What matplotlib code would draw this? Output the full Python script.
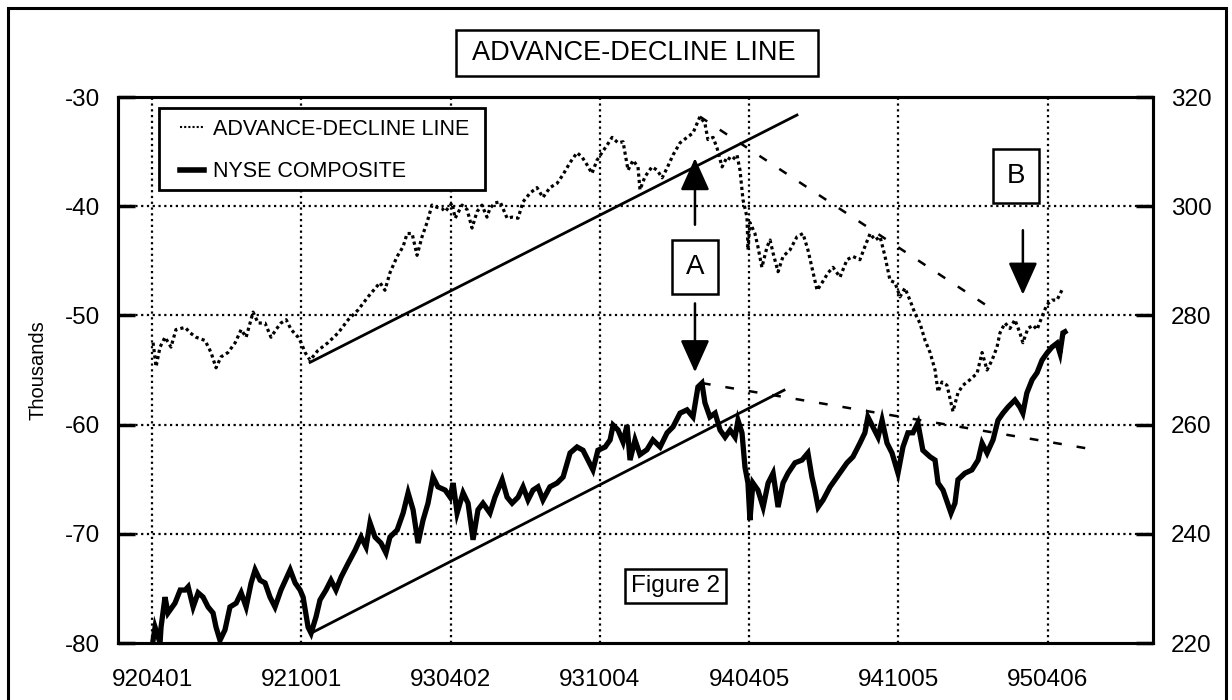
import matplotlib
matplotlib.use("Agg")
import matplotlib.pyplot as plt
from matplotlib.lines import Line2D
from matplotlib.patches import Rectangle

plt.rcParams['font.family'] = ['Liberation Sans', 'DejaVu Sans']

# ---------------- data ----------------
# x: months since 920401 (gridlines every 6 months)
x_ticks = [0, 6, 12, 18, 24, 30, 36]
x_labels = ['920401', '921001', '930402', '931004', '940405', '941005', '950406']
left_ticks = [-80, -70, -60, -50, -40, -30]
right_ticks = [220, 240, 260, 280, 300, 320]

# Advance-decline line (thousands, left axis)
ad_x = [0.04, 0.16, 0.32, 0.52, 0.76, 0.96, 1.33, 1.53, 1.77, 2.13, 2.37, 2.57, 2.77, 3.05,
        3.34, 3.58, 3.78, 4.06, 4.26, 4.54, 4.78, 4.98, 5.18, 5.39, 5.59, 5.87, 5.99, 6.15,
        6.35, 6.67, 7.07, 7.48, 7.88, 8.28, 8.68, 9.16, 9.36, 9.56, 9.85, 10.09, 10.25,
        10.45, 10.65, 10.85, 11.05, 11.25, 11.45, 11.65, 11.78, 12.06, 12.18, 12.46, 12.66,
        12.86, 13.06, 13.26, 13.46, 13.58, 13.78, 13.99, 14.27, 14.47, 14.71, 14.91, 15.19,
        15.47, 15.71, 15.99, 16.28, 16.52, 16.80, 17.08, 17.28, 17.48, 17.68, 17.88, 18.08,
        18.29, 18.49, 18.73, 18.93, 19.13, 19.33, 19.53, 19.61, 19.81, 20.09, 20.30, 20.50,
        20.70, 20.94, 21.22, 21.50, 21.74, 22.02, 22.22, 22.34, 22.55, 22.71, 22.91, 23.11,
        23.31, 23.51, 23.63, 23.75, 23.91, 23.95, 24.03, 24.23, 24.35, 24.51, 24.72, 24.84,
        24.96, 25.16, 25.36, 25.64, 25.92, 26.16, 26.36, 26.52, 26.73, 26.93, 27.17, 27.37,
        27.65, 27.93, 28.17, 28.45, 28.65, 28.86, 29.06, 29.26, 29.46, 29.66, 29.86, 30.06,
        30.26, 30.46, 30.66, 30.86, 31.07, 31.27, 31.47, 31.59, 31.75, 31.95, 32.19, 32.39,
        32.59, 32.87, 33.16, 33.36, 33.56, 33.76, 33.96, 34.08, 34.28, 34.48, 34.68, 34.88,
        35.00, 35.20, 35.41, 35.57, 35.77, 35.97, 36.17, 36.37, 36.61]
ad_y = [-52.5, -54.7, -52.9, -52.0, -52.9, -51.3, -51.1, -51.6, -52.0, -52.3, -53.4, -54.8,
        -53.8, -53.4, -52.5, -51.3, -52.0, -49.7, -50.7, -50.7, -52.0, -51.3, -50.7, -50.4,
        -51.3, -52.0, -52.5, -53.4, -54.1, -53.2, -52.5, -51.6, -50.4, -49.5, -48.3, -47.0,
        -47.7, -46.1, -44.6, -43.7, -42.5, -42.5, -44.5, -42.8, -41.5, -39.9, -40.1, -40.2,
        -40.5, -39.7, -41.1, -39.9, -40.3, -42.0, -40.5, -39.9, -41.0, -40.2, -39.7, -39.6,
        -41.1, -41.0, -41.1, -39.6, -38.8, -38.3, -39.2, -38.3, -37.9, -37.1, -36.0, -35.1,
        -35.5, -36.2, -37.0, -35.8, -35.1, -34.4, -33.7, -34.2, -34.1, -36.7, -35.8, -36.4,
        -38.5, -37.3, -36.4, -36.7, -37.4, -36.5, -35.3, -34.2, -33.7, -33.3, -31.8, -32.4,
        -33.9, -33.7, -34.7, -36.4, -35.5, -35.8, -35.3, -36.7, -39.4, -41.0, -44.0, -41.5,
        -42.5, -43.7, -45.6, -43.7, -43.1, -44.3, -46.0, -44.6, -44.0, -42.8, -42.5, -44.0,
        -45.6, -47.7, -47.0, -46.1, -45.6, -46.5, -44.9, -44.6, -44.9, -43.7, -42.5, -43.1,
        -42.8, -44.6, -46.8, -47.0, -48.3, -47.5, -48.6, -49.8, -50.7, -52.3, -53.4, -55.0,
        -57.0, -56.1, -56.4, -58.8, -57.1, -56.4, -55.9, -55.3, -53.4, -55.0, -54.1, -52.9,
        -51.6, -50.7, -51.2, -50.4, -51.6, -52.5, -51.2, -50.9, -51.3, -50.1, -49.0, -48.6,
        -48.6, -47.5]

# NYSE composite (right axis)
nyse_x = [0.04, 0.12, 0.32, 0.36, 0.52, 0.64, 0.92, 1.13, 1.33, 1.45, 1.65, 1.85, 2.05, 2.25,
          2.45, 2.57, 2.73, 2.93, 3.13, 3.38, 3.58, 3.78, 3.98, 4.14, 4.34, 4.54, 4.74, 4.94,
          5.18, 5.55, 5.75, 5.95, 6.07, 6.27, 6.39, 6.59, 6.75, 6.99, 7.19, 7.39, 7.60, 7.88,
          8.16, 8.40, 8.60, 8.76, 8.96, 9.20, 9.40, 9.56, 9.85, 10.09, 10.29, 10.49, 10.69,
          10.89, 11.09, 11.29, 11.49, 11.78, 11.98, 12.10, 12.26, 12.50, 12.70, 12.90, 13.10,
          13.30, 13.58, 13.78, 14.07, 14.27, 14.47, 14.71, 14.91, 15.11, 15.31, 15.51, 15.71,
          15.99, 16.28, 16.52, 16.80, 17.08, 17.32, 17.52, 17.72, 17.92, 18.21, 18.41, 18.53,
          18.73, 18.93, 19.09, 19.21, 19.41, 19.61, 19.89, 20.13, 20.42, 20.70, 20.94, 21.22,
          21.50, 21.74, 21.94, 22.10, 22.22, 22.42, 22.63, 22.83, 23.03, 23.23, 23.43, 23.55,
          23.71, 23.83, 23.95, 24.03, 24.15, 24.35, 24.56, 24.76, 24.96, 25.16, 25.36, 25.56,
          25.84, 26.12, 26.36, 26.52, 26.64, 26.77, 26.97, 27.25, 27.53, 27.73, 27.93, 28.17,
          28.45, 28.65, 28.77, 28.97, 29.18, 29.34, 29.54, 29.74, 29.98, 30.18, 30.38, 30.58,
          30.78, 30.98, 31.27, 31.47, 31.59, 31.79, 32.11, 32.27, 32.39, 32.67, 32.95, 33.20,
          33.36, 33.56, 33.80, 34.00, 34.20, 34.40, 34.68, 34.88, 35.00, 35.16, 35.37, 35.57,
          35.77, 35.97, 36.17, 36.37, 36.49, 36.61, 36.69]
nyse_y = [220.5, 222.9, 220.0, 222.9, 228.4, 225.5, 227.3, 229.7, 229.7, 230.3, 226.6, 229.2,
          228.4, 226.6, 225.5, 222.9, 220.5, 222.4, 226.6, 227.3, 229.2, 226.6, 231.0, 233.4,
          231.5, 231.0, 228.4, 226.6, 229.7, 233.4, 231.0, 229.7, 228.4, 222.9, 221.8, 224.8,
          227.9, 229.7, 231.5, 229.7, 232.1, 234.6, 237.0, 239.4, 237.6, 242.0, 239.4, 238.3,
          236.5, 239.4, 240.7, 243.8, 247.5, 244.4, 238.3, 242.5, 245.6, 250.4, 248.6, 248.0,
          246.7, 249.3, 243.8, 247.5, 245.6, 238.9, 244.4, 245.6, 243.8, 246.7, 249.9, 246.7,
          245.6, 246.7, 248.6, 246.2, 248.0, 248.6, 246.2, 248.6, 249.3, 250.4, 254.8, 255.9,
          255.3, 253.5, 251.7, 255.3, 255.9, 257.2, 259.9, 259.0, 256.8, 259.9, 253.5, 257.2,
          254.5, 255.4, 257.2, 255.9, 258.5, 259.6, 262.1, 262.7, 261.4, 266.9, 267.6, 264.0,
          261.4, 262.1, 259.0, 257.7, 259.0, 257.7, 260.8, 258.5, 252.2, 249.3, 242.5, 249.3,
          248.0, 244.9, 249.3, 251.1, 244.9, 249.3, 251.1, 253.0, 253.5, 254.8, 250.4, 248.0,
          244.9, 246.2, 248.6, 250.4, 251.7, 253.0, 254.1, 256.6, 258.5, 261.4, 259.6, 257.7,
          260.8, 256.6, 254.8, 251.1, 255.9, 258.5, 258.5, 260.3, 255.3, 254.1, 253.5, 249.3,
          248.0, 243.8, 245.6, 249.9, 251.1, 251.7, 253.5, 256.6, 254.8, 257.2, 260.8, 262.1,
          263.2, 264.5, 263.2, 262.1, 265.8, 268.2, 269.5, 271.8, 273.1, 274.2, 274.9, 273.1,
          276.8, 277.0]

# Trend lines (endpoints in data units)
ad_trend_x = [6.35, 25.92]
ad_trend_y = [-54.3, -31.65]
ad_down_x = [22.02, 33.68]
ad_down_y = [-31.8, -49.3]
nyse_trend_x = [6.39, 25.40]
nyse_trend_y = [221.8, 266.3]
nyse_down_x = [22.10, 38.02]
nyse_down_y = [267.6, 255.3]

# ---------------- figure ----------------
W, H = 1232, 700
fig = plt.figure(figsize=(W / 100, H / 100), dpi=100)
ax = fig.add_axes([118 / W, 1 - 643 / H, 1035 / W, 546 / H])
ax2 = ax.twinx()
ax2.patch.set_visible(False)

ax.set_xlim(-1.37, 40.23)
ax.set_ylim(-80, -30)
ax2.set_ylim(220, 320)

grid_kw = dict(color='black', lw=1.6, ls=(0, (1, 1.6)), zorder=1)
for v in left_ticks[1:-1]:
    ax.axhline(v, **grid_kw)
for t in x_ticks:
    ax.axvline(t, **grid_kw)

ax.set_xticks(x_ticks)
ax.set_xticklabels(x_labels)
ax.set_yticks(left_ticks)
ax.set_yticklabels([str(v) for v in left_ticks])
ax2.set_yticks(right_ticks)
ax2.set_yticklabels([str(v) for v in right_ticks])

ax.tick_params(axis='x', length=0, pad=19, labelsize=17.5)
ax.tick_params(axis='y', direction='in', length=12, width=2.5, pad=13, labelsize=17.5)
ax2.tick_params(axis='y', direction='in', length=12, width=2.5, pad=13, labelsize=17.5)
for a in (ax, ax2):
    for s in a.spines.values():
        s.set_linewidth(2.2)

ax.set_ylabel('Thousands', fontsize=14.5)
ax.yaxis.set_label_coords((47 - 118) / 1035, 0.5)

# series
ax.plot(ad_x, ad_y, color='black', lw=2.3, ls=(0, (1, 1)), zorder=3)
ax.plot(ad_trend_x, ad_trend_y, color='black', lw=2.0, zorder=3)
ax.plot(ad_down_x, ad_down_y, color='black', lw=1.8, ls=(0, (3.5, 6)), zorder=3)
ax2.plot(nyse_x, nyse_y, color='black', lw=3.8, zorder=3, solid_joinstyle='miter')
ax2.plot(nyse_trend_x, nyse_trend_y, color='black', lw=2.0, zorder=3)
ax2.plot(nyse_down_x, nyse_down_y, color='black', lw=1.8, ls=(0, (3.5, 6)), zorder=3)

# legend (frame drawn separately to match the reference box)
ax2.add_patch(Rectangle(((159 - 118) / 1035, (643 - 190) / 546), 326 / 1035, 82 / 546,
                        transform=ax2.transAxes, fc='white', ec='black', lw=2, zorder=9))
handles = [Line2D([], [], color='black', lw=1.5, ls=(0, (1, 1))),
           Line2D([], [], color='black', lw=4)]
leg = ax2.legend(handles, ['ADVANCE-DECLINE LINE', 'NYSE COMPOSITE'],
                 loc='upper left', bbox_to_anchor=((180 - 118) / 1035, (643 - 119) / 546),
                 borderaxespad=0, borderpad=0, fontsize=15.5, frameon=False,
                 handlelength=1.1, handletextpad=0.42, labelspacing=0.98)
leg.set_zorder(10)

# annotations
box_kw = dict(boxstyle='square,pad=0.5', fc='white', ec='black', lw=1.8)
ax.text(21.82, -45.6, 'A', fontsize=20, ha='center', va='center', bbox=box_kw, zorder=6)
ax.text(34.73, -37.2, 'B', fontsize=20, ha='center', va='center', bbox=box_kw, zorder=6)
ax.text(21.03, -74.8, 'Figure 2', fontsize=17.5, ha='center', va='center',
        bbox=dict(boxstyle='square,pad=0.25', fc='white', ec='black', lw=1.8), zorder=6)

arrow_kw = dict(arrowstyle='-|>,head_length=1.0,head_width=0.45', color='black', lw=1.8,
                mutation_scale=20, shrinkA=0, shrinkB=0)
ax.annotate('', xy=(21.82, -35.6), xytext=(21.82, -41.7), arrowprops=arrow_kw, zorder=6)
ax.annotate('', xy=(21.82, -55.2), xytext=(21.82, -48.9), arrowprops=arrow_kw, zorder=6)
ax.annotate('', xy=(35.0, -48.1), xytext=(35.0, -42.2), arrowprops=arrow_kw, zorder=6)

# title
fig.add_artist(Rectangle((456 / W, 1 - 76 / H), 362 / W, 46 / H, transform=fig.transFigure,
                         fc='white', ec='black', lw=1.8))
fig.text(634 / W, 1 - 53 / H, 'ADVANCE-DECLINE LINE', fontsize=19.5, ha='center', va='center')

# outer frame
fig.add_artist(Rectangle((8 / W, -0.02), (1226 - 8) / W, 1 - 8 / H + 0.02,
                         transform=fig.transFigure, fill=False, ec='black', lw=2.2))

fig.savefig('out.png', dpi=100)
